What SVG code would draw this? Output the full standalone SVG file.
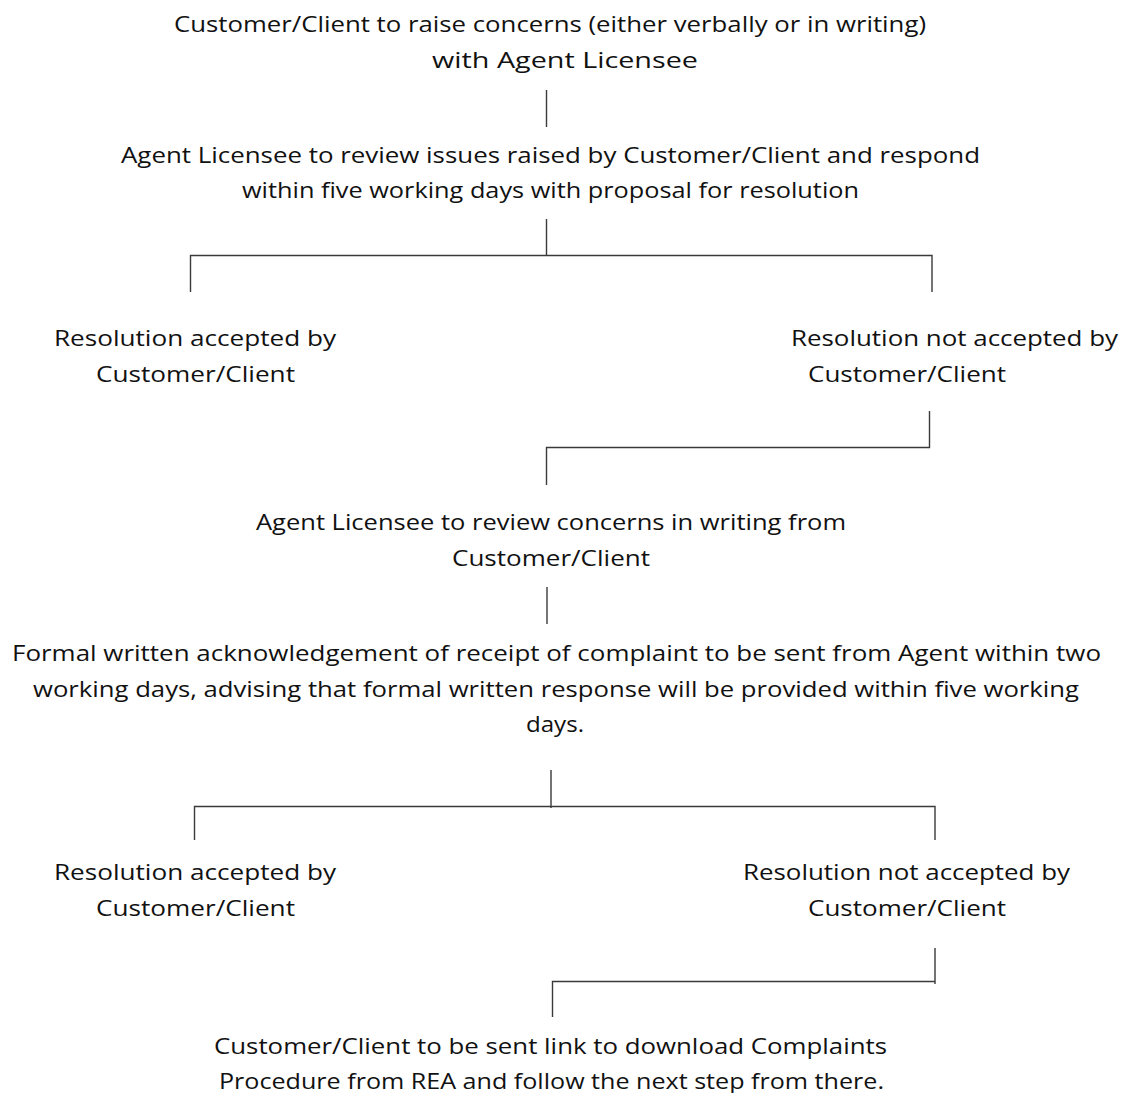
<svg xmlns="http://www.w3.org/2000/svg" width="1126" height="1093" viewBox="0 0 1126 1093">
<style>
text{font-family:"Open Sans","Noto Sans","DejaVu Sans",sans-serif;font-size:21px;fill:#111;}
.c{fill:none;stroke:#3a3a3a;stroke-width:1.4;}
</style>
<rect width="1126" height="1093" fill="#fff"/>
<g id="connectors">
<path class="c" d="M546.5 90V127"/>
<path class="c" d="M546.5 219V255.5M190.5 292V255.5H932V292"/>
<path class="c" d="M929.5 411V447.5H546.5V485"/>
<path class="c" d="M547 587V624"/>
<path class="c" d="M551 770V808M194.5 840V806.5H935V840"/>
<path class="c" d="M935 948V984M935 981.5H552.5V1017"/>
</g>
<g id="n1"><text x="174" y="32" textLength="752" lengthAdjust="spacingAndGlyphs">Customer/Client to raise concerns (either verbally or in writing)</text><text x="432" y="68" textLength="266" lengthAdjust="spacingAndGlyphs">with Agent Licensee</text></g>
<g id="n2"><text x="121" y="163" textLength="859" lengthAdjust="spacingAndGlyphs">Agent Licensee to review issues raised by Customer/Client and respond</text><text x="242" y="198" textLength="617" lengthAdjust="spacingAndGlyphs">within five working days with proposal for resolution</text></g>
<g id="n3"><text x="54" y="346" textLength="282" lengthAdjust="spacingAndGlyphs">Resolution accepted by</text><text x="96" y="382" textLength="199" lengthAdjust="spacingAndGlyphs">Customer/Client</text></g>
<g id="n4"><text x="791" y="346" textLength="327" lengthAdjust="spacingAndGlyphs">Resolution not accepted by</text><text x="808" y="382" textLength="198" lengthAdjust="spacingAndGlyphs">Customer/Client</text></g>
<g id="n5"><text x="256" y="530" textLength="590" lengthAdjust="spacingAndGlyphs">Agent Licensee to review concerns in writing from</text><text x="452" y="566" textLength="198" lengthAdjust="spacingAndGlyphs">Customer/Client</text></g>
<g id="n6"><text x="12" y="661" textLength="1089" lengthAdjust="spacingAndGlyphs">Formal written acknowledgement of receipt of complaint to be sent from Agent within two</text><text x="33" y="697" textLength="1046" lengthAdjust="spacingAndGlyphs">working days, advising that formal written response will be provided within five working</text><text x="526" y="732" textLength="58" lengthAdjust="spacingAndGlyphs">days.</text></g>
<g id="n7"><text x="54" y="880" textLength="282" lengthAdjust="spacingAndGlyphs">Resolution accepted by</text><text x="96" y="916" textLength="199" lengthAdjust="spacingAndGlyphs">Customer/Client</text></g>
<g id="n8"><text x="743" y="880" textLength="327" lengthAdjust="spacingAndGlyphs">Resolution not accepted by</text><text x="808" y="916" textLength="198" lengthAdjust="spacingAndGlyphs">Customer/Client</text></g>
<g id="n9"><text x="214" y="1054" textLength="673" lengthAdjust="spacingAndGlyphs">Customer/Client to be sent link to download Complaints</text><text x="219" y="1089" textLength="665" lengthAdjust="spacingAndGlyphs">Procedure from REA and follow the next step from there.</text></g>
</svg>
